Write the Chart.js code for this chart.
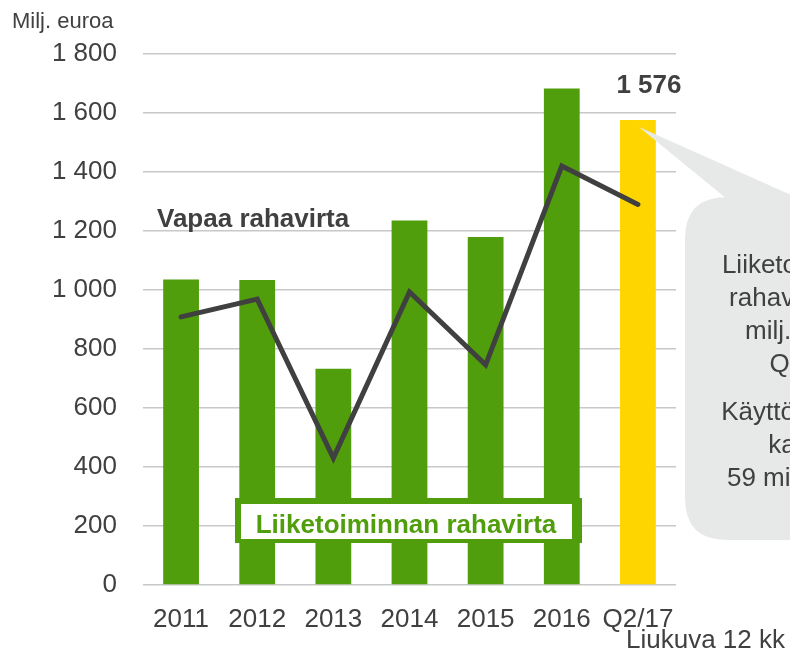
<!DOCTYPE html>
<html>
<head>
<meta charset="utf-8">
<script src="https://cdn.jsdelivr.net/npm/chart.js@4"></script>
<style>
  body { margin: 0; background: #fff; }
  #wrap { width: 790px; height: 654px; }
</style>
</head>
<body>
<div id="wrap"><canvas id="chart" width="790" height="654"></canvas></div>
<script>
// Chart data
const categories = ["2011", "2012", "2013", "2014", "2015", "2016", "Q2/17"]
const operatingCashFlow = [1036, 1034, 733, 1236, 1180, 1683, 1576]
const freeCashFlow = [909, 969, 430, 993, 746, 1420, 1290]
const yTicks = [0, 200, 400, 600, 800, 1000, 1200, 1400, 1600, 1800]
const calloutLines1 = ["Liiketoiminnan", "rahavirta 343", "milj. euroa", "Q2/17"]
const calloutLines2 = ["Käyttöpääoma", "kasvoi", "59 milj. euroa"]

const FONT = "'Liberation Sans', Arial, sans-serif"
const TEXT = "#404040"
const GREEN = "#519e0c"
const YELLOW = "#ffd500"

// 1800 -> "1 800"
function fmt(v) {
    if (v < 1000) return String(v)
    const rest = String(v % 1000).padStart(3, "0")
    return Math.floor(v / 1000) + " " + rest
}

function roundRect(ctx, x, y, w, h, r) {
    ctx.beginPath()
    ctx.moveTo(x + r, y)
    ctx.lineTo(x + w - r, y)
    ctx.quadraticCurveTo(x + w, y, x + w, y + r)
    ctx.lineTo(x + w, y + h - r)
    ctx.quadraticCurveTo(x + w, y + h, x + w - r, y + h)
    ctx.lineTo(x + r, y + h)
    ctx.quadraticCurveTo(x, y + h, x, y + h - r)
    ctx.lineTo(x, y + r)
    ctx.quadraticCurveTo(x, y, x + r, y)
    ctx.closePath()
}

// Texts, label box and callout drawn on top
const annotations = {
    id: "annotations",
    afterDraw(chart) {
        const ctx = chart.ctx
        const x = chart.scales.x
        const y = chart.scales.y
        const last = categories.length - 1
        ctx.save()

        // Unit
        ctx.fillStyle = TEXT
        ctx.font = "22px " + FONT
        ctx.textAlign = "left"
        ctx.textBaseline = "alphabetic"
        ctx.fillText("Milj. euroa", 12, 28)

        // Free cash flow label
        ctx.font = "bold 26px " + FONT
        ctx.fillText("Vapaa rahavirta", 157, 227)

        // Value above last bar
        ctx.textAlign = "center"
        ctx.fillText(fmt(operatingCashFlow[last]), x.getPixelForValue(last) + 11, y.getPixelForValue(operatingCashFlow[last]) - 27)

        // Operating cash flow label box
        ctx.fillStyle = GREEN
        ctx.fillRect(235, 498, 347, 45)
        ctx.fillStyle = "#fff"
        ctx.fillRect(241, 504, 331, 35)
        ctx.fillStyle = GREEN
        ctx.font = "bold 26px " + FONT
        ctx.fillText("Liiketoiminnan rahavirta", 406, 533)

        // Callout
        const tipX = x.getPixelForValue(last) + 1
        const tipY = y.getPixelForValue(operatingCashFlow[last]) + 7
        ctx.fillStyle = "#e7e8e8"
        ctx.beginPath()
        ctx.moveTo(tipX, tipY)
        ctx.lineTo(727, 199)
        ctx.lineTo(800, 199)
        ctx.closePath()
        ctx.fill()
        roundRect(ctx, 685, 197, 240, 343, 42)
        ctx.fill()

        ctx.fillStyle = TEXT
        ctx.font = "26px " + FONT
        ctx.textAlign = "center"
        calloutLines1.forEach((t, i) => ctx.fillText(t, 805, 273 + i * 33))
        calloutLines2.forEach((t, i) => ctx.fillText(t, 805, 420 + i * 33))

        // Period note
        ctx.textAlign = "left"
        ctx.fillText("Liukuva 12 kk", 626, 648)
        ctx.restore()
    }
}

new Chart(document.getElementById("chart"), {
    type: "bar",
    data: {
        labels: categories,
        datasets: [
            {
                type: "line",
                label: "Vapaa rahavirta",
                data: freeCashFlow,
                borderColor: "#404040",
                borderWidth: 5,
                borderCapStyle: "round",
                borderJoinStyle: "miter",
                pointRadius: 0,
                tension: 0,
                order: 0
            },
            {
                label: "Liiketoiminnan rahavirta",
                data: operatingCashFlow,
                backgroundColor: categories.map((c, i) => i === categories.length - 1 ? YELLOW : GREEN),
                barPercentage: 0.47,
                categoryPercentage: 1,
                order: 1
            }
        ]
    },
    options: {
        responsive: false,
        animation: false,
        layout: { padding: { left: 0, top: 54, right: 114, bottom: 0 } },
        plugins: {
            legend: { display: false },
            tooltip: { enabled: false }
        },
        scales: {
            x: {
                grid: { display: false },
                border: { display: false },
                ticks: {
                    color: TEXT,
                    font: { family: FONT, size: 26 },
                    padding: 11,
                    maxRotation: 0,
                    autoSkip: false
                },
                afterFit: (s) => { s.height = 69 }
            },
            y: {
                min: 0,
                max: 1800,
                afterBuildTicks: (s) => { s.ticks = yTicks.map(v => ({ value: v })) },
                grid: { color: "#c8c8c8", lineWidth: 1.5, drawTicks: false },
                border: { display: false },
                ticks: {
                    color: TEXT,
                    font: { family: FONT, size: 26 },
                    padding: 26,
                    callback: (v) => fmt(v)
                },
                afterFit: (s) => { s.width = 143 }
            }
        }
    },
    plugins: [annotations]
})
</script>
</body>
</html>
